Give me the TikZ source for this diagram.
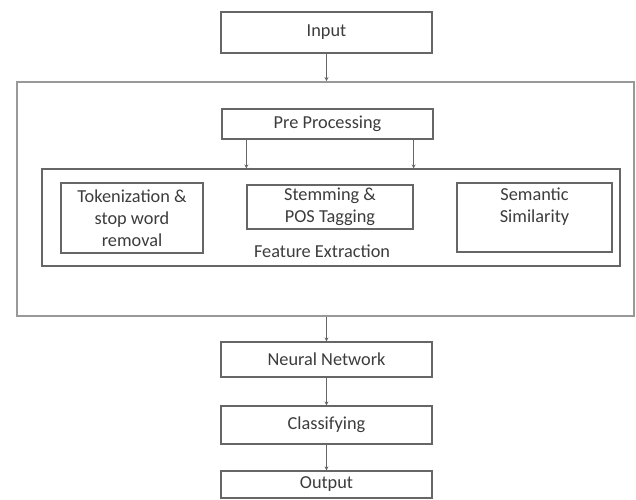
\documentclass[tikz,border=0pt]{standalone}
\usepackage{fontspec}
\setmainfont{Carlito}
\usetikzlibrary{arrows.meta}
\definecolor{linec}{HTML}{666666}
\definecolor{outerc}{HTML}{999999}
\definecolor{txtc}{HTML}{3C3C3C}
\begin{document}
\begin{tikzpicture}[x=1pt,y=-1pt,
  box/.style={draw=linec, line width=1.2pt, inner sep=0pt, text=txtc,
    font=\fontsize{18.3}{22}\selectfont, align=center},
  frame/.style={draw=outerc, line width=1.8pt, inner sep=0pt},
  arr/.style={draw=linec, line width=1pt, -{Stealth[length=4pt,width=4pt]}},
  lbl/.style={text=txtc, font=\fontsize{18.3}{22}\selectfont, align=center, inner sep=0pt}]
\useasboundingbox (0,0) rectangle (636,499);
\node[box, minimum width=211pt, minimum height=41pt] (input) at (326.5,32.5) {Input};
\node[frame, minimum width=617pt, minimum height=234pt] (outer) at (325.5,199) {};
\node[box, minimum width=211pt, minimum height=30pt] (pre) at (327.5,124) {Pre Processing};
\node[box, minimum width=578pt, minimum height=97pt] (fe) at (331,217.5) {};
\node[box, minimum width=142pt, minimum height=70pt] (tok) at (132,218) {Tokenization \&\\stop word\\removal};
\node[box, minimum width=166pt, minimum height=44pt] (stem) at (330,207) {Stemming \&\\POS Tagging};
\node[box, minimum width=155pt, minimum height=69pt] (sem) at (534.5,217.5) {};
\node[lbl] (semtxt) at (534.5,207) {Semantic\\Similarity};
\node[lbl] (fetxt) at (322,251) {Feature Extraction};
\node[box, minimum width=211pt, minimum height=35pt] (nn) at (326.5,359.5) {Neural Network};
\node[box, minimum width=211pt, minimum height=38pt] (cls) at (326.5,425) {Classifying};
\node[box, minimum width=211pt, minimum height=27pt] (out) at (326.5,484.5) {Output};
\draw[arr] (input.south) -- (input.south |- outer.north);
\draw[arr] (stem.west |- pre.south) -- (stem.west |- fe.north);
\draw[arr] (stem.east |- pre.south) -- (stem.east |- fe.north);
\draw[arr] (nn.north |- outer.south) -- (nn.north);
\draw[arr] (nn.south) -- (cls.north);
\draw[arr] (cls.south) -- (out.north);
\end{tikzpicture}
\end{document}
